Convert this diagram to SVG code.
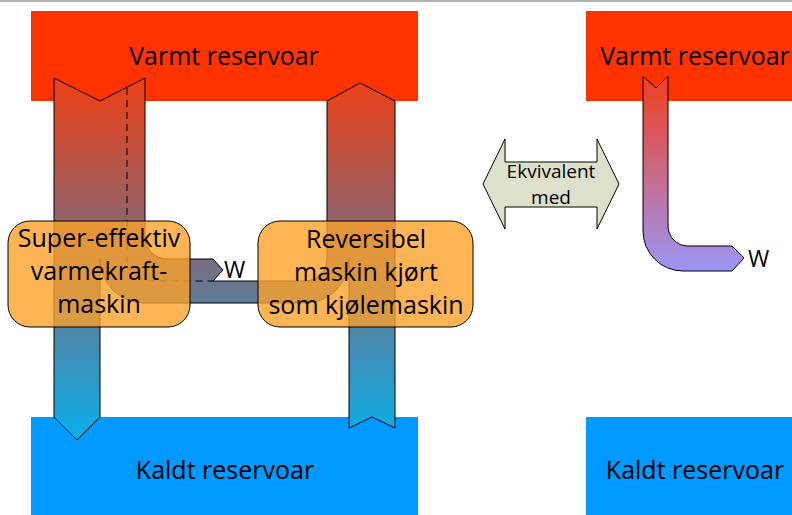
<svg xmlns="http://www.w3.org/2000/svg" width="792" height="515" viewBox="0 0 792 515">
<defs>
<style>
.lbl{font-family:"Open Sans","Liberation Sans",sans-serif;fill:#000;text-anchor:middle}
.res{font-size:25px}
.box{font-size:25px}
.w{font-size:23px;text-anchor:start}
.eq{font-size:19px}
.hot{fill:#ff3300}
.cold{fill:#0099ff}
.eng{fill:#fba12a;fill-opacity:0.8;stroke:#000;stroke-width:1}
.flow{stroke:#000;stroke-width:1;stroke-linejoin:miter}
</style>
<linearGradient id="gMain" gradientUnits="userSpaceOnUse" x1="0" y1="78" x2="0" y2="440">
<stop offset="0" stop-color="#ee3f14"/>
<stop offset="0.5" stop-color="#7a6c80"/>
<stop offset="1" stop-color="#08b0ec"/>
</linearGradient>
<linearGradient id="gRight" gradientUnits="userSpaceOnUse" x1="0" y1="76" x2="0" y2="271">
<stop offset="0" stop-color="#f03f1c"/>
<stop offset="0.5" stop-color="#c86a8a"/>
<stop offset="1" stop-color="#9a96f8"/>
</linearGradient>
</defs>
<rect x="0" y="0" width="792" height="2" fill="#b3b3b3"/>
<g id="hot-left"><rect class="hot" x="31" y="11" width="387" height="90"/><text class="lbl res" x="224" y="65">Varmt reservoar</text></g>
<g id="cold-left"><rect class="cold" x="31" y="417" width="387" height="98"/><text class="lbl res" x="225" y="479">Kaldt reservoar</text></g>
<g id="hot-right"><rect class="hot" x="586" y="11" width="206" height="90"/><text class="lbl res" x="695" y="65">Varmt reservoar</text></g>
<g id="cold-right"><rect class="cold" x="586" y="417" width="206" height="98"/><text class="lbl res" x="695" y="479">Kaldt reservoar</text></g>
<g id="connectors">
<path class="flow" fill="url(#gMain)" d="M54,78 L100,101 L145,78 L145,237 A22,22 0 0 0 167,259 L213,259 L223,270 L213,281 L305,281 A22,22 0 0 0 327,259 L327,101 L360,83 L395,101 L395,428 L372,417 L349,428 L349,259 A44,44 0 0 1 305,303 L144,303 A44,44 0 0 1 100,259 L100,417 L77,440 L54,417 Z"/>
<path fill="none" stroke="#000" stroke-width="1" stroke-dasharray="7,5" d="M127,88 L127,259 A22,22 0 0 0 149,281 L213,281"/>
<text class="lbl w" x="224" y="278">W</text>
<path class="flow" fill="url(#gRight)" d="M643,76 L656,88 L668,76 L668,226 A20,20 0 0 0 688,246 L732,246 L744,258 L732,271 L683,271 A40,40 0 0 1 643,231 Z"/>
<text class="lbl w" x="748" y="267">W</text>
</g>
<g id="engine-left"><rect class="eng" x="8" y="221" width="182" height="106" rx="22" ry="22"/>
<text class="lbl box" x="99" y="247">Super-effektiv</text>
<text class="lbl box" x="99" y="280">varmekraft-</text>
<text class="lbl box" x="99" y="313">maskin</text></g>
<g id="engine-right"><rect class="eng" x="258" y="221" width="215" height="106" rx="22" ry="22"/>
<text class="lbl box" x="366" y="248">Reversibel</text>
<text class="lbl box" x="366" y="281">maskin kjørt</text>
<text class="lbl box" x="366" y="314">som kjølemaskin</text></g>
<g id="equiv"><path fill="#dde1cc" stroke="#000" stroke-width="1" d="M483,184 L505,139 L505,162 L597,162 L597,139 L619,184 L597,229 L597,207 L505,207 L505,229 Z"/>
<text class="lbl eq" x="551" y="178">Ekvivalent</text>
<text class="lbl eq" x="551" y="204">med</text></g>
</svg>
